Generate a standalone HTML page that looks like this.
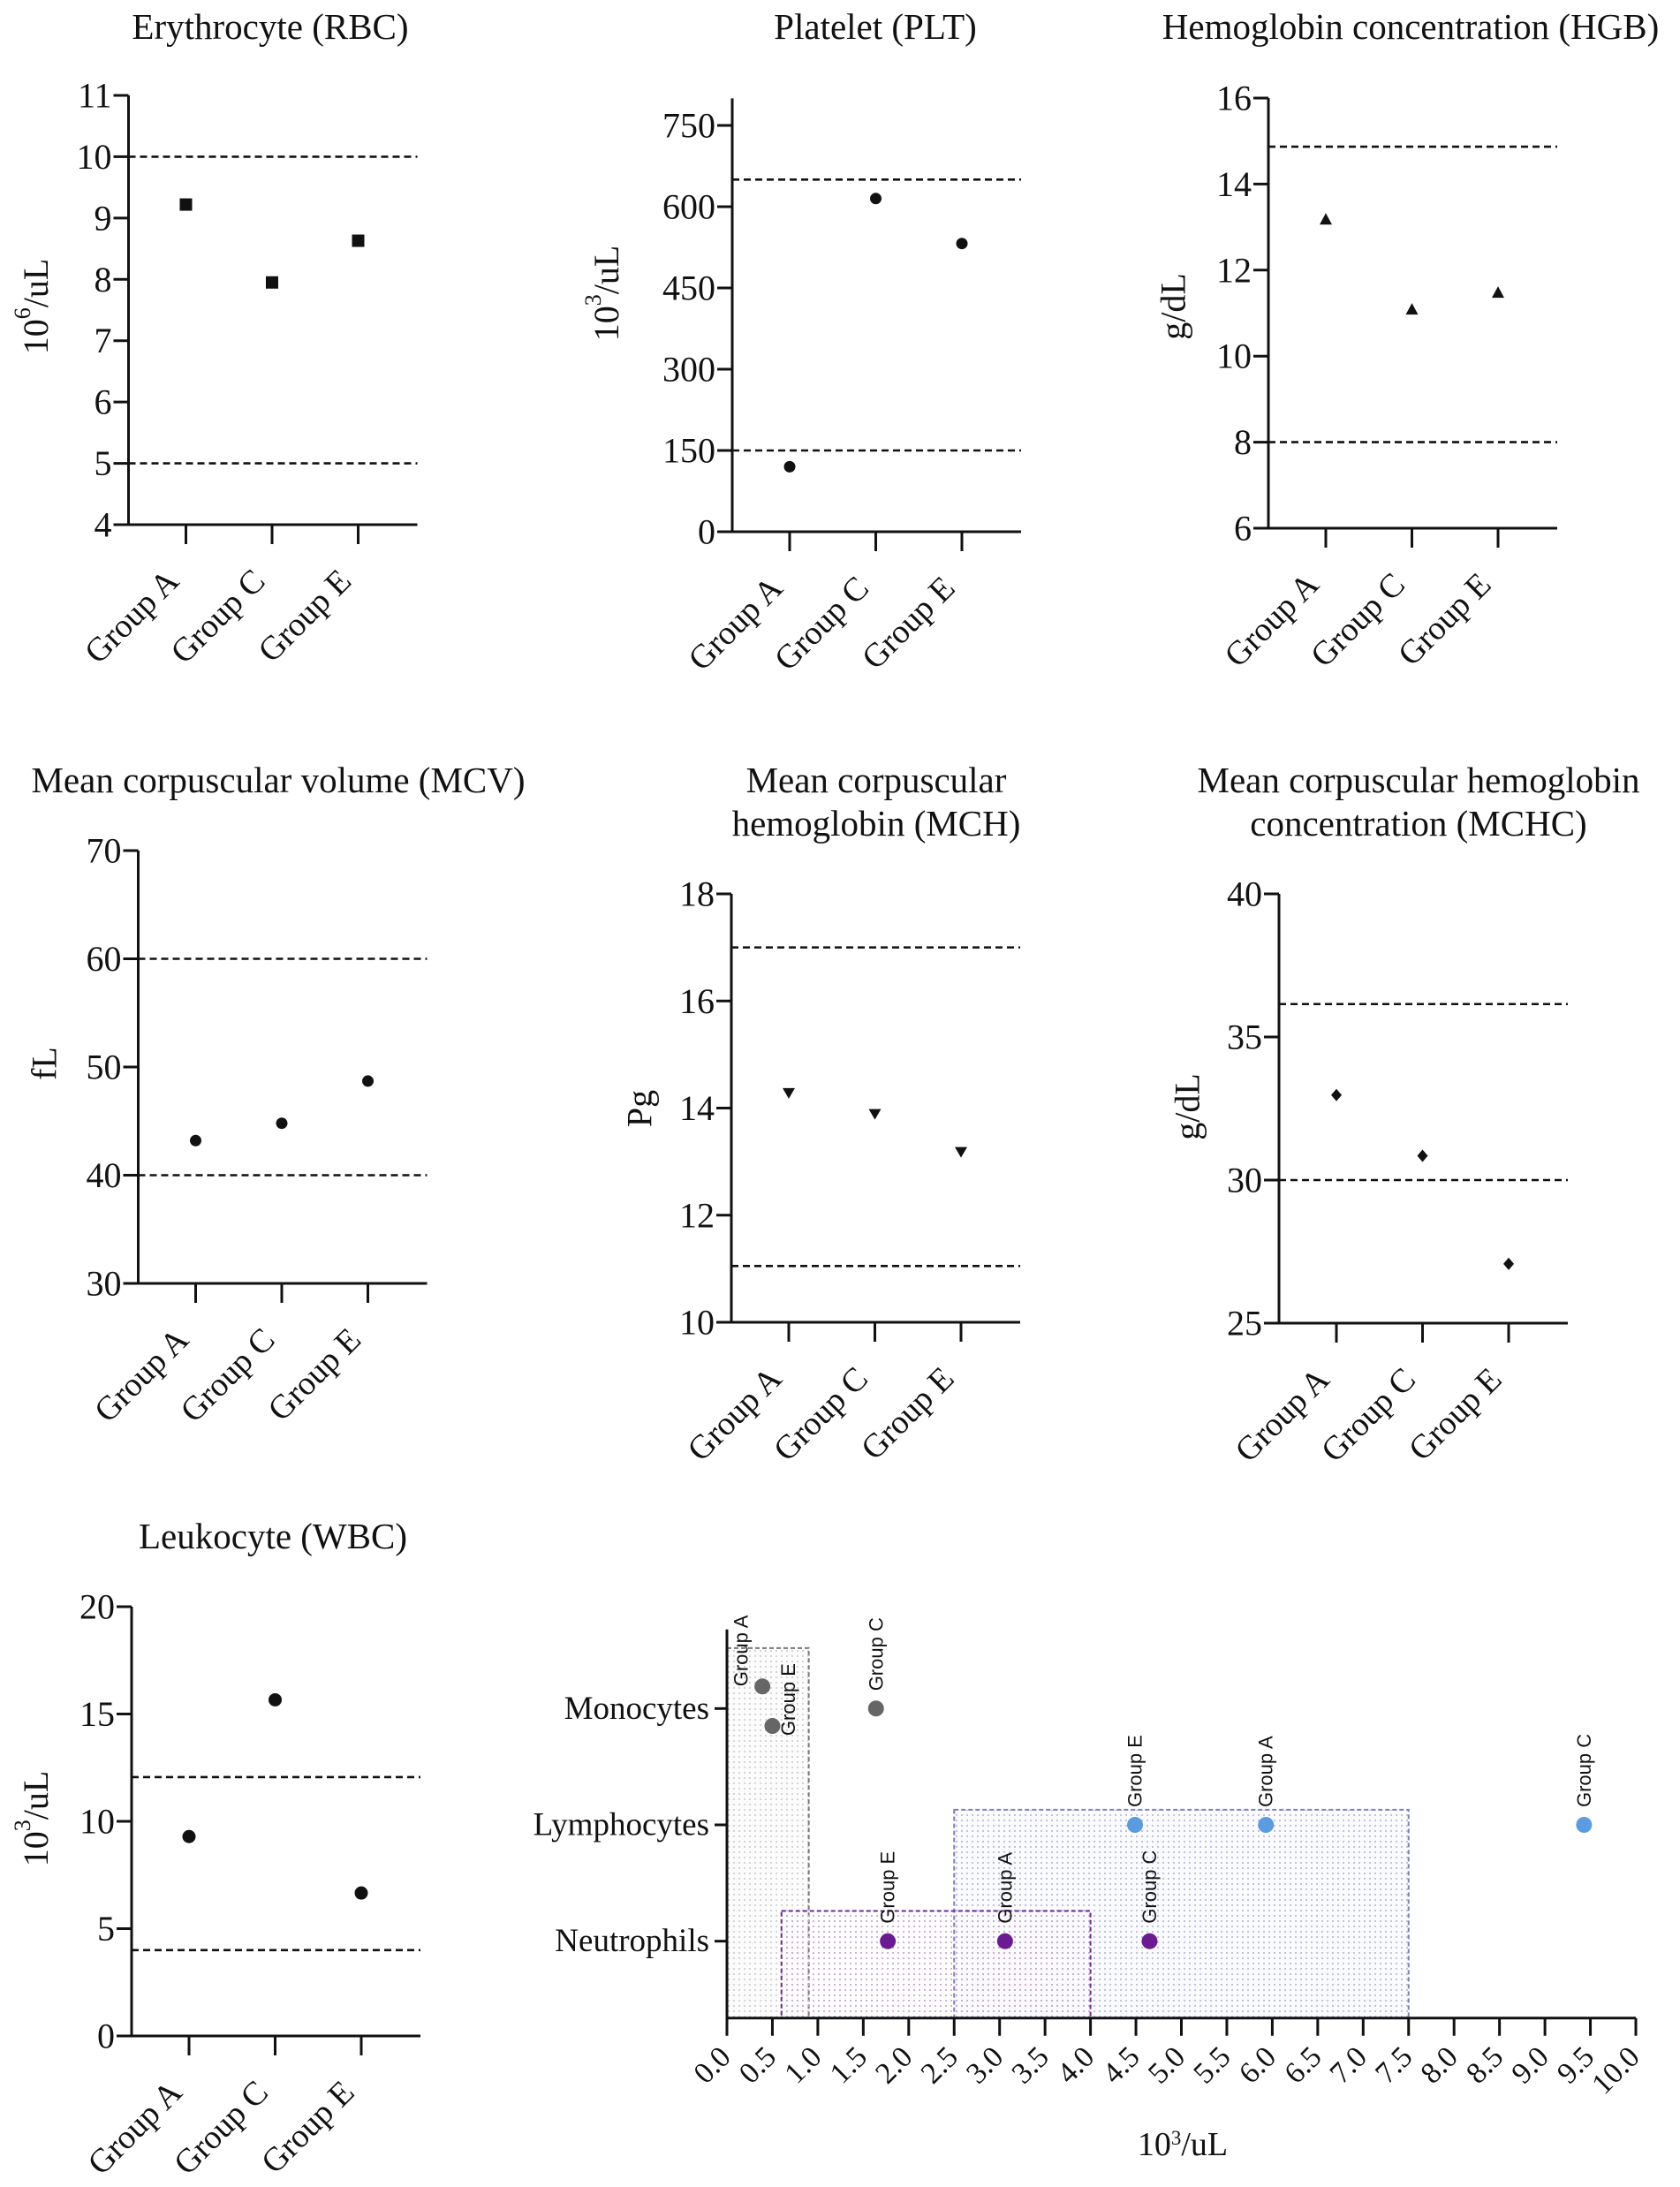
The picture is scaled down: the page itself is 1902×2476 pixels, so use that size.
<!DOCTYPE html>
<html><head><meta charset="utf-8"><title>Hematology panels</title>
<style>
html,body{margin:0;padding:0;background:#fff;}
svg{display:block;}
text{font-family:"Liberation Serif","DejaVu Serif",serif;fill:#111;}
.sm{font-family:"Liberation Sans","DejaVu Sans",sans-serif;}
</style></head>
<body>
<svg id="chart" width="1902" height="2476" viewBox="0 0 1902 2476" xmlns="http://www.w3.org/2000/svg">
<defs>
<pattern id="dotGray" width="6" height="6" patternUnits="userSpaceOnUse"><rect width="6" height="6" fill="#fcfcfc"/><circle cx="3" cy="3" r="1" fill="#c8c8c8"/></pattern>
<pattern id="dotPurple" width="6" height="6" patternUnits="userSpaceOnUse"><circle cx="3" cy="3" r="1.1" fill="#c7a9d6"/></pattern>
<pattern id="dotBlue" width="6" height="6" patternUnits="userSpaceOnUse"><rect width="6" height="6" fill="#fbfbfe"/><circle cx="3" cy="3" r="1.1" fill="#b8bde0"/></pattern>
</defs>
</svg>
<script>
const NS="http://www.w3.org/2000/svg";
const svg=document.getElementById('chart');
// ---- data ----
const groupCats=["Group A","Group C","Group E"];
const rbcValues=[9.22,7.95,8.63]; const rbcTicks=[4,5,6,7,8,9,10,11]; const rbcRefs=[10,5];
const pltValues=[120,615,532]; const pltTicks=[0,150,300,450,600,750]; const pltRefs=[650,150];
const hgbValues=[13.16,11.07,11.46]; const hgbTicks=[6,8,10,12,14,16]; const hgbRefs=[14.87,8];
const mcvValues=[43.2,44.8,48.7]; const mcvTicks=[30,40,50,60,70]; const mcvRefs=[60,40];
const mchValues=[14.29,13.9,13.19]; const mchTicks=[10,12,14,16,18]; const mchRefs=[17,11.05];
const mchcValues=[32.97,30.85,27.07]; const mchcTicks=[25,30,35,40]; const mchcRefs=[36.15,30];
const wbcValues=[9.29,15.66,6.66]; const wbcTicks=[0,5,10,15,20]; const wbcRefs=[12.06,4.0];
// differential
const diffCats=["Neutrophils","Lymphocytes","Monocytes"];
const diffGroups=["Group A","Group C","Group E"];
const neutroX=[3.06,4.65,1.77];
const lymphX=[5.93,9.43,4.49];
const monoX=[0.39,1.64,0.5];
const monoY=[3.19,3.0,2.85];
const neutroRange=[0.6,4.0,1.26];
const lymphRange=[2.5,7.5,2.13];
const monoRange=[0,0.9,3.52];
const diffXTicks=[0,0.5,1,1.5,2,2.5,3,3.5,4,4.5,5,5.5,6,6.5,7,7.5,8,8.5,9,9.5,10];

function el(tag,attrs,parent){const e=document.createElementNS(NS,tag);for(const k in attrs)e.setAttribute(k,attrs[k]);(parent||svg).appendChild(e);return e;}

function panel(cfg){
  const g=el('g',{});
  
  
  const y=v=>cfg.y0-(v-cfg.v0)*(cfg.y0-cfg.y1)/(cfg.v1-cfg.v0);
  const cx=i=>cfg.ax+65+i*97.5;
  const end=cfg.ax+327;
  cfg.title.forEach((t,i)=>{const tt=el('text',{x:cfg.tx,y:cfg.ty+i*49,'text-anchor':'middle','font-size':41},g);tt.textContent=t;
    });
  cfg.refs.forEach(r=>{const l=el('line',{x1:cfg.ax,x2:end,y1:y(r),y2:y(r),stroke:'#111','stroke-width':2.6,'stroke-dasharray':'8 5'},g);
    });
  const topY=cfg.axTop!==undefined?y(cfg.axTop):y(cfg.v1);
  const ya=el('line',{x1:cfg.ax,x2:cfg.ax,y1:topY,y2:y(cfg.v0)+1.5,stroke:'#111','stroke-width':3},g);
  
  const xa=el('line',{x1:cfg.ax-17,x2:end,y1:y(cfg.v0),y2:y(cfg.v0),stroke:'#111','stroke-width':3},g);
  
  cfg.ticks.forEach(t=>{el('line',{x1:cfg.ax-17,x2:cfg.ax,y1:y(t),y2:y(t),stroke:'#111','stroke-width':3},g);
    const tl=el('text',{x:cfg.ax-19,y:y(t),'text-anchor':'end','dominant-baseline':'central','font-size':40},g);tl.textContent=t;
    });
  groupCats.forEach((c,i)=>{el('line',{x1:cx(i),x2:cx(i),y1:y(cfg.v0),y2:y(cfg.v0)+22,stroke:'#111','stroke-width':3},g);
    const ax=cx(i)-6, ay=y(cfg.v0)+66;
    const tl=el('text',{x:ax,y:ay,'text-anchor':'end','font-size':38,transform:`rotate(-45 ${ax} ${ay})`},g);tl.textContent=c;
    });
  const yl=el('text',{x:cfg.lx,y:cfg.ly,'text-anchor':'middle','dominant-baseline':'central','font-size':40,transform:`rotate(-90 ${cfg.lx} ${cfg.ly})`},g);
  
  if(cfg.sup){const a=el('tspan',{},yl);a.textContent=cfg.lab[0];const b=el('tspan',{'baseline-shift':'super','font-size':26},yl);b.textContent=cfg.sup;const c=el('tspan',{},yl);c.textContent=cfg.lab[1];}
  else yl.textContent=cfg.lab[0];
  cfg.vals.forEach((v,i)=>{const X=cx(i),Y=y(v);let m;
    if(cfg.mk==='sq')m=el('rect',{x:X-7,y:Y-7,width:14,height:14,fill:'#111'},g);
    else if(cfg.mk==='tri')m=el('path',{d:`M${X} ${Y-8}L${X+7} ${Y+5}L${X-7} ${Y+5}Z`,fill:'#111'},g);
    else if(cfg.mk==='itri')m=el('path',{d:`M${X-7} ${Y-5}L${X+7} ${Y-5}L${X} ${Y+7}Z`,fill:'#111'},g);
    else if(cfg.mk==='dia')m=el('path',{d:`M${X} ${Y-7}L${X+6} ${Y}L${X} ${Y+7}L${X-6} ${Y}Z`,fill:'#111'},g);
    else m=el('circle',{cx:X,cy:Y,r:cfg.r||6.5,fill:'#111'},g);
    });
}
panel({name:'rbc-panel',ax:145.5,v0:4,v1:11,y0:594,y1:108,ticks:rbcTicks,refs:rbcRefs,vals:rbcValues,mk:'sq',title:['Erythrocyte (RBC)'],tx:306,ty:44,lab:['10','/uL'],sup:'6',lx:40,ly:347});
panel({name:'plt-panel',ax:829,v0:0,v1:750,y0:602,y1:142,axTop:800,ticks:pltTicks,refs:pltRefs,vals:pltValues,mk:'c',title:['Platelet (PLT)'],tx:991,ty:44,lab:['10','/uL'],sup:'3',lx:686,ly:332});
panel({name:'hgb-panel',ax:1436,v0:6,v1:16,y0:598,y1:111,ticks:hgbTicks,refs:hgbRefs,vals:hgbValues,mk:'tri',title:['Hemoglobin concentration (HGB)'],tx:1597,ty:44,lab:['g/dL'],lx:1328,ly:347});
panel({name:'mcv-panel',ax:156.5,v0:30,v1:70,y0:1453,y1:963,ticks:mcvTicks,refs:mcvRefs,vals:mcvValues,mk:'c',title:['Mean corpuscular volume (MCV)'],tx:315,ty:897,lab:['fL'],lx:50,ly:1204});
panel({name:'mch-panel',ax:828,v0:10,v1:18,y0:1497,y1:1012,ticks:mchTicks,refs:mchRefs,vals:mchValues,mk:'itri',title:['Mean corpuscular','hemoglobin (MCH)'],tx:992,ty:897,lab:['Pg'],lx:724,ly:1255});
panel({name:'mchc-panel',ax:1448,v0:25,v1:40,y0:1498,y1:1012,ticks:mchcTicks,refs:mchcRefs,vals:mchcValues,mk:'dia',title:['Mean corpuscular hemoglobin','concentration (MCHC)'],tx:1606,ty:897,lab:['g/dL'],lx:1344,ly:1253});
panel({name:'wbc-panel',ax:149,v0:0,v1:20,y0:2305,y1:1819,ticks:wbcTicks,refs:wbcRefs,vals:wbcValues,mk:'c',r:7.5,title:['Leukocyte (WBC)'],tx:309,ty:1753,lab:['10','/uL'],sup:'3',lx:40,ly:2059});

(function(){
  const g=el('g',{});
  
  
  const X=v=>823+v*102.9;
  const Y=v=>2197.7-(v-1)*131.7;
  const vAxis=0.339, vTop=3.68;
  const ranges=[[monoRange,'url(#dotGray)','#777','monocyte-range'],[lymphRange,'url(#dotBlue)','#7d82b8','lymphocyte-range'],[neutroRange,'url(#dotPurple)','#6a2c8c','neutrophil-range']];
  ranges.forEach(r=>{const [rg,f,s,n]=r;
    const rc=el('rect',{x:X(rg[0]),y:Y(rg[2]),width:X(rg[1])-X(rg[0]),height:Y(vAxis)-Y(rg[2]),fill:f,stroke:s,'stroke-width':2,'stroke-dasharray':'5 3'},g);
    });
  const ya=el('line',{x1:X(0),x2:X(0),y1:Y(vTop),y2:Y(vAxis)+1.5,stroke:'#111','stroke-width':3},g);
  
  const xa=el('line',{x1:X(0),x2:X(10),y1:Y(vAxis),y2:Y(vAxis),stroke:'#111','stroke-width':3},g);
  
  diffCats.forEach((c,i)=>{el('line',{x1:X(0)-14,x2:X(0),y1:Y(i+1),y2:Y(i+1),stroke:'#111','stroke-width':3},g);
    const t=el('text',{x:X(0)-20,y:Y(i+1),'text-anchor':'end','dominant-baseline':'central','font-size':37},g);t.textContent=c;
    });
  diffXTicks.forEach(v=>{el('line',{x1:X(v),x2:X(v),y1:Y(vAxis),y2:Y(vAxis)+20,stroke:'#111','stroke-width':3},g);
    const ax=X(v)+6, ay=Y(vAxis)+46;
    const t=el('text',{x:ax,y:ay,'text-anchor':'end','font-size':34,transform:`rotate(-45 ${ax} ${ay})`},g);t.textContent=v.toFixed(1);
    });
  const xt=el('text',{x:1339,y:2440,'text-anchor':'middle','font-size':38},g);
  
  const a=el('tspan',{},xt);a.textContent='10';const b=el('tspan',{'baseline-shift':'super','font-size':23},xt);b.textContent='3';const c=el('tspan',{},xt);c.textContent='/uL';
  const series=[[neutroX,diffGroups.map(()=>1),'#6a1b8f','neutrophil-point',[[0,-20],[0,-20],[0,-20]]],
                [lymphX,diffGroups.map(()=>2),'#5b9be0','lymphocyte-point',[[0,-20],[0,-20],[0,-20]]],
                [monoX,monoY,'#666666','monocyte-point',[[-24,0],[0,-20],[18,11]]]];
  series.forEach(s=>{const [xs,ys,col,n,off]=s;
    xs.forEach((v,i)=>{const px=X(v),py=Y(ys[i]);
      const p=el('circle',{cx:px,cy:py,r:9,fill:col},g);
      
      const lx=px+off[i][0], ly=py+off[i][1];
      const t=el('text',{x:lx,y:ly,'text-anchor':'start','dominant-baseline':'central','font-size':22,class:'sm',transform:`rotate(-90 ${lx} ${ly})`},g);
      t.textContent=diffGroups[i];
      
    });});
})();
</script>
</body></html>
